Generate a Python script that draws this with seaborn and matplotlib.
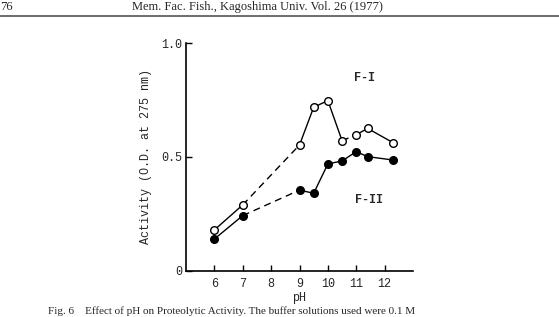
import matplotlib
matplotlib.use("Agg")
import matplotlib.pyplot as plt
import seaborn as sns
import pandas as pd

ph = [6, 7, 9, 9.5, 10, 10.5, 11, 11.4, 12.3]
f1 = [0.179, 0.289, 0.552, 0.718, 0.747, 0.571, 0.597, 0.625, 0.562]
f2 = [0.139, 0.242, 0.354, 0.340, 0.469, 0.482, 0.523, 0.501, 0.486]
xticks = [6, 7, 8, 9, 10, 11, 12]

sns.set_style("ticks")
mono = "Liberation Mono"
serif = "Liberation Serif"

fig = plt.figure(figsize=(5.59, 3.17), dpi=100)
ax = fig.add_axes([186 / 559, 1 - 270.7 / 317, 227 / 559, 227.7 / 317])

df1 = pd.DataFrame({"pH": ph, "act": f1})
df2 = pd.DataFrame({"pH": ph, "act": f2})

# solid / dashed pieces of each curve (index ranges)
pieces1 = [(0, 2, "-"), (1, 3, "--"), (2, 6, "-"), (5, 7, "--"), (6, 9, "-")]
pieces2 = [(0, 2, "-"), (1, 3, "--"), (2, 9, "-")]
for d, pieces in [(df1, pieces1), (df2, pieces2)]:
    for a, b, ls in pieces:
        line_ax = sns.lineplot(data=d.iloc[a:b], x="pH", y="act", ax=ax, color="black",
                               lw=1.0, sort=False, zorder=1)
        if ls == "--":
            line_ax.lines[-1].set_dashes((5, 3.5))

ax.plot(df1["pH"], df1["act"], "o", ms=5.5, mfc="white", mec="black", mew=1.0, zorder=3)
ax.plot(df2["pH"], df2["act"], "o", ms=5.5, mfc="black", mec="black", mew=1.0, zorder=3)

ax.set_xlim(5, 13)
ax.set_ylim(0, 1.0)
ax.set_xticks(xticks)
ax.set_yticks([0, 0.5, 1.0])
ax.set_yticklabels(["0", "0.5", "1.0"], family=mono, fontsize=8.5)
ax.set_xticklabels([str(t) for t in xticks], family=mono, fontsize=8.5)
ax.tick_params(direction="in", length=4, width=1.0, color="black", pad=5)
ax.tick_params(axis="y", pad=3)
for s in ["right", "top"]:
    ax.spines[s].set_visible(False)
for s in ["left", "bottom"]:
    ax.spines[s].set_linewidth(1.2)
    ax.spines[s].set_color("black")
ax.set_xlabel("pH", family=mono, fontsize=8.5, labelpad=1.5)
ax.set_ylabel("Activity (O.D. at 275 nm)", family=mono, fontsize=8.5, labelpad=6)

ax.text(11.3, 0.846, "F-I", family=mono, fontsize=8.5, weight="bold", ha="center", va="center")
ax.text(11.45, 0.31, "F-II", family=mono, fontsize=8.5, weight="bold", ha="center", va="center")

# page header and caption of the scanned page
fig.text(0.0, 1 - 7 / 317, "76", family=serif, fontsize=9, va="center", ha="left")
fig.text(257 / 559, 1 - 7 / 317, "Mem. Fac. Fish., Kagoshima Univ. Vol. 26 (1977)",
         family=serif, fontsize=9, va="center", ha="center")
fig.add_artist(plt.Line2D([0, 1], [1 - 15.5 / 317] * 2, color="#555555", lw=1.2))
fig.text(48 / 559, 0.5 / 317,
         "Fig. 6    Effect of pH on Proteolytic Activity. The buffer solutions used were 0.1 M",
         family=serif, fontsize=8, va="bottom", ha="left")

fig.savefig("out.png", dpi=100)
